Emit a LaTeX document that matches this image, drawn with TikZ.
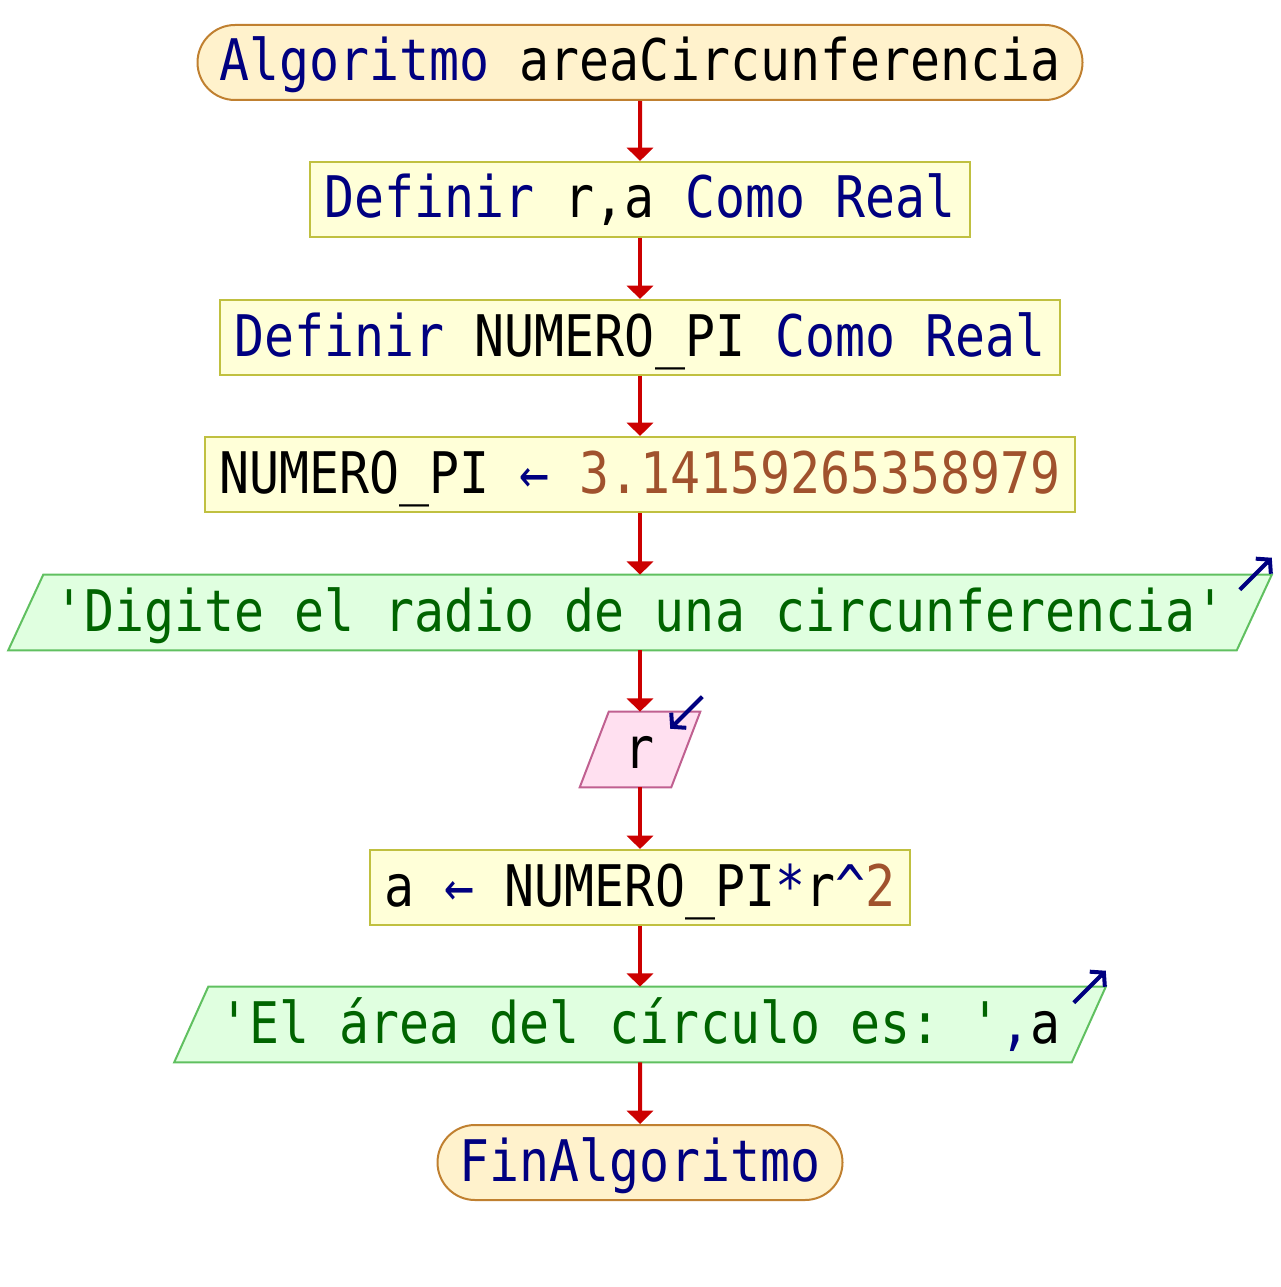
\documentclass[tikz,border=0pt]{standalone}
\usepackage{fontspec}
\setmonofont{DejaVu Sans Mono}
\usepackage{graphicx}
\usetikzlibrary{arrows.meta,shapes.misc,calc}

\definecolor{kw}{HTML}{000080}
\definecolor{strc}{HTML}{006400}
\definecolor{numc}{HTML}{A0522D}
\definecolor{flowred}{HTML}{CC0000}
\definecolor{termfill}{HTML}{FFF2CC}
\definecolor{termline}{HTML}{C08030}
\definecolor{procfill}{HTML}{FFFFD8}
\definecolor{procline}{HTML}{C0C040}
\definecolor{outfill}{HTML}{E0FFE0}
\definecolor{outline}{HTML}{60C060}
\definecolor{infill}{HTML}{FFE0F0}
\definecolor{inline}{HTML}{C06090}

\pgfdeclarelayer{bg}
\pgfsetlayers{bg,main}

% code text, slightly stretched vertically
\newcommand{\codeline}[1]{\scalebox{1}[1.15]{#1}}
\newcommand{\kwd}[1]{\textcolor{kw}{#1}}
\newcommand{\strl}[1]{\textcolor{strc}{#1}}
\newcommand{\numl}[1]{\textcolor{numc}{#1}}

\begin{document}
\begin{tikzpicture}[x=0.75pt,y=-0.75pt,
  every node/.style={font=\ttfamily\fontsize{37.4}{40}\selectfont,
    text height=27.75pt, text depth=0pt, inner sep=0pt},
  terminal/.style={rounded rectangle, draw=termline, fill=termfill,
    line width=1.5pt, minimum height=75*0.75pt},
  procbox/.style={rectangle, draw=procline, fill=procfill,
    line width=1.5pt, minimum height=75*0.75pt},
  iobox/.style={rectangle, minimum height=75*0.75pt},
  outshape/.style={draw=outline, fill=outfill, line width=1.5pt},
  inshape/.style={draw=inline, fill=infill, line width=1.5pt},
  flow/.style={draw=flowred, line width=3pt,
    -{Triangle[width=19.5pt,length=10pt]}},
  ioicon/.style={draw=kw, line width=3pt,
    -{Straight Barb[length=7pt,width=16pt,line width=3pt]}}
]
\useasboundingbox (0,0) rectangle (1280,1287);

% blocks
\node[terminal, minimum width=885*0.75pt] (start) at (640,62.5)
  {\codeline{\kwd{Algoritmo} areaCircunferencia}};
\node[procbox, minimum width=660*0.75pt] (defra) at (640,199.5)
  {\codeline{\kwd{Definir} r,a \kwd{Como Real}}};
\node[procbox, minimum width=840*0.75pt] (defpi) at (640,337.5)
  {\codeline{\kwd{Definir} NUMERO\_PI \kwd{Como Real}}};
\node[procbox, minimum width=870*0.75pt] (setpi) at (640,474.5)
  {\codeline{NUMERO\_PI \kwd{←} \numl{3.14159265358979}}};
\node[iobox, minimum width=1228*0.75pt] (ask) at (640,612.5)
  {\codeline{\strl{'Digite el radio de una circunferencia'}}};
\node[iobox, minimum width=91*0.75pt] (readr) at (640,749.5)
  {\codeline{r}};
\node[procbox, minimum width=540*0.75pt] (calc) at (640,887.5)
  {\codeline{a \kwd{←} NUMERO\_PI\kwd{*}r\kwd{\textasciicircum}\numl{2}}};
\node[iobox, minimum width=897*0.75pt] (show) at (640,1024.5)
  {\codeline{\strl{'El área del círculo es: '}\kwd{,}a}};
\node[terminal, minimum width=405*0.75pt] (fin) at (640,1162.5)
  {\codeline{\kwd{FinAlgoritmo}}};

% slanted input/output shapes behind their texts
\begin{pgfonlayer}{bg}
  \draw[outshape] ($(ask.north west)+(17.5,0)$) -- ($(ask.north east)+(17.5,0)$)
    -- ($(ask.south east)+(-17.5,0)$) -- ($(ask.south west)+(-17.5,0)$) -- cycle;
  \draw[inshape] ($(readr.north west)+(14.5,0)$) -- ($(readr.north east)+(14.5,0)$)
    -- ($(readr.south east)+(-14.5,0)$) -- ($(readr.south west)+(-14.5,0)$) -- cycle;
  \draw[outshape] ($(show.north west)+(17,0)$) -- ($(show.north east)+(17,0)$)
    -- ($(show.south east)+(-17,0)$) -- ($(show.south west)+(-17,0)$) -- cycle;
\end{pgfonlayer}

% output / input marks
\draw[ioicon] ($(ask.north east)+(17.5,0)+(-32,15)$) -- ++(32,-32);
\draw[ioicon] ($(readr.north east)+(14.5,0)+(2,-15)$) -- ++(-32,32);
\draw[ioicon] ($(show.north east)+(17,0)+(-32,16)$) -- ++(32,-32);

% flow
\draw[flow] (start) -- (defra);
\draw[flow] (defra) -- (defpi);
\draw[flow] (defpi) -- (setpi);
\draw[flow] (setpi) -- (ask);
\draw[flow] (ask) -- (readr);
\draw[flow] (readr) -- (calc);
\draw[flow] (calc) -- (show);
\draw[flow] (show) -- (fin);
\end{tikzpicture}
\end{document}
